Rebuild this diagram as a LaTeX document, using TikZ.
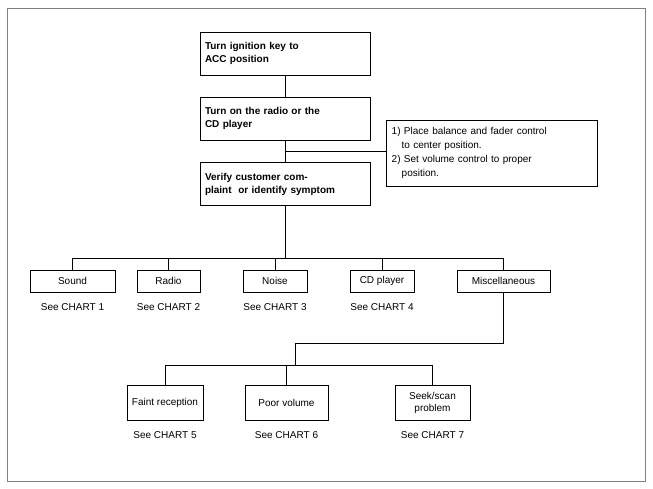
\documentclass[tikz,border=0pt]{standalone}
\usepackage{fontspec}
\setmainfont{Liberation Sans}
\usetikzlibrary{positioning}
\begin{document}
\begin{tikzpicture}[x=1pt, y=-1pt, font=\fontsize{10pt}{12pt}\selectfont,
  action/.style={rectangle, draw, minimum width=170pt, minimum height=43pt, align=left, text width=160pt, font=\fontsize{10pt}{13pt}\selectfont\bfseries},
  item/.style={rectangle, draw, minimum height=22pt, inner sep=2pt},
  sub/.style={rectangle, draw, minimum height=35pt, inner sep=2pt},
  chart/.style={inner sep=1pt}]
  \useasboundingbox (0,0) rectangle (653,489);
  \draw[gray] (7,8) rectangle (645,481);

  \node[action] (ignition) at (285,53.5) {Turn ignition key to\\ACC position};
  \node[action] (radio) at (285,118.5) {Turn on the radio or the\\CD player};
  \node[action] (verify) at (285,184) {Verify customer com-\\plaint\ \ or identify symptom};
  \node[draw, align=left, minimum width=211pt, minimum height=66pt, text width=200pt, anchor=north west, font=\fontsize{10pt}{14pt}\selectfont] (note) at (386,120)
    {1) Place balance and fader control\\\ \ \ to center position.\\2) Set volume control to proper\\\ \ \ position.};

  \node[coordinate] (branch) at (285,151) {};
  \node[coordinate] (split) at (285,258) {};

  % first level
  \node[item, minimum width=85pt] (sound) at (72.5,281) {Sound};
  \node[item, minimum width=63pt] (tuner) at (168.5,281) {Radio};
  \node[item, minimum width=64pt] (noise) at (275,281) {Noise};
  \node[item, minimum width=64pt] (cdplayer) at (382,281) {CD player};
  \node[item, minimum width=93pt] (misc) at (503.5,281) {Miscellaneous};
  \node[chart, below=10pt of sound] {See CHART 1};
  \node[chart, below=10pt of tuner] {See CHART 2};
  \node[chart, below=10pt of noise] {See CHART 3};
  \node[chart, below=10pt of cdplayer] {See CHART 4};

  % second level
  \node[sub, minimum width=76pt] (faint) at (165,402.5) {Faint reception};
  \node[sub, minimum width=83pt] (volume) at (286.5,402.5) {Poor volume};
  \node[sub, minimum width=75pt, align=center] (seek) at (432.5,402.5) {Seek/scan\\problem};
  \node[chart, below=10pt of faint] {See CHART 5};
  \node[chart, below=10pt of volume] {See CHART 6};
  \node[chart, below=10pt of seek] {See CHART 7};

  \node[coordinate] (turn) at (295,343) {};
  \node[coordinate] (split2) at (295,365) {};

  \draw (ignition) -- (radio);
  \draw (radio) -- (verify);
  \draw (branch) -- (branch -| note.west);
  \draw (verify) -- (split);
  \draw (sound.north |- split) -- (misc.north |- split);
  \foreach \n in {sound, tuner, noise, cdplayer, misc}
    \draw (\n.north |- split) -- (\n);
  \draw (misc) -- (misc.south |- turn) -- (turn) -- (split2);
  \draw (faint.north |- split2) -- (seek.north |- split2);
  \foreach \n in {faint, volume, seek}
    \draw (\n.north |- split2) -- (\n);
\end{tikzpicture}
\end{document}
